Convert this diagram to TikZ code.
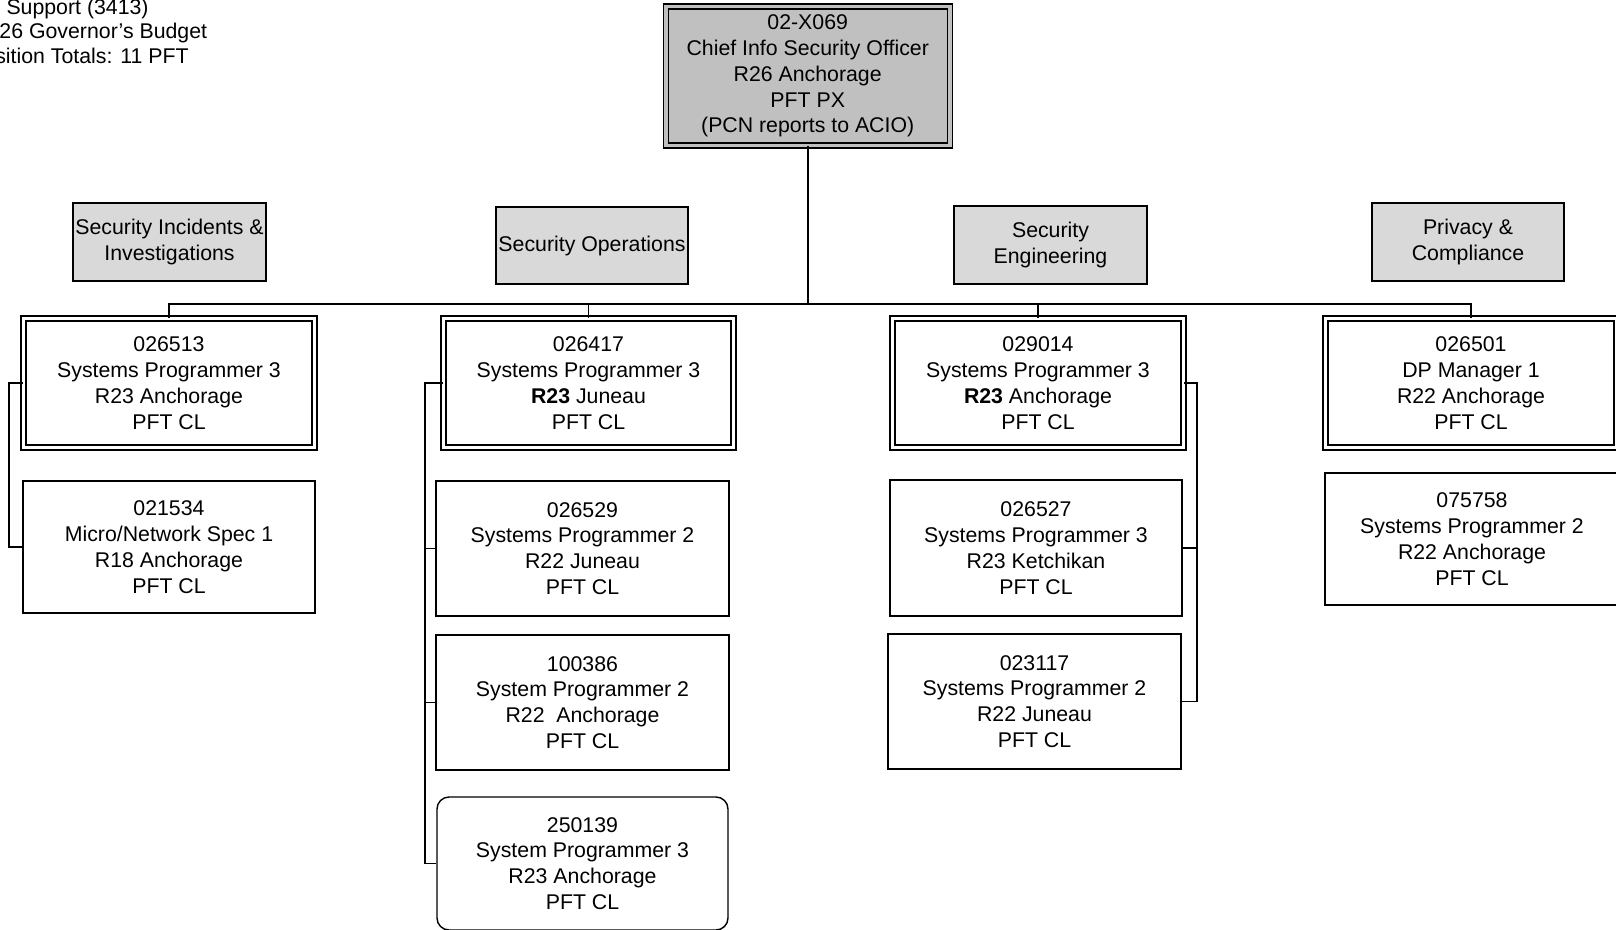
\documentclass[tikz,border=0pt]{standalone}
\usepackage{fontspec}
\setmainfont{Liberation Sans}
\newcommand\orgfont{\fontsize{10.65pt}{12.9pt}\selectfont}
\definecolor{chiefgray}{HTML}{C0C0C0}
\definecolor{headgray}{HTML}{D9D9D9}
\tikzset{
  box/.style={draw, line width=0.7pt, fill=white, align=center, inner sep=0pt, font=\orgfont},
  dbox/.style={draw, line width=0.6pt, double=white, double distance=1.9pt, fill=white, align=center, inner sep=0pt, font=\orgfont},
  headbox/.style={box, fill=headgray},
  conn/.style={line width=0.75pt},
  trunk/.style={line width=1.1pt},
  toptext/.style={anchor=base east, inner sep=0pt, font=\orgfont}
}
\begin{document}
\begin{tikzpicture}[x=0.5pt,y=-0.5pt]
\useasboundingbox (0,0) rectangle (1616,930);
\clip (0,0) rectangle (1616,930);
\fill[white] (0,0) rectangle (1616,930);

% top-left caption (clipped in the reference)
\node[toptext] (cap1) at (149,14.5) {Support (3413)};
\node[toptext] (cap2) at (207.5,38.5) {26 Governor’s Budget};
\node[toptext] (cap3) at (189,63.5) {sition Totals: 11 PFT};

% chief
\node[dbox, fill=chiefgray, double=chiefgray, minimum width=142pt, minimum height=69.5pt] (chief) at (807.7,76)
  {02-X069\\Chief Info Security Officer\\R26 Anchorage\\PFT PX\\(PCN reports to ACIO)};

% headers
\node[headbox, minimum width=96.5pt, minimum height=39pt] (h1) at (169.5,242) {Security Incidents \&\\Investigations};
\node[headbox, minimum width=96pt, minimum height=38.5pt] (h2) at (592,245.5) {Security Operations};
\node[headbox, minimum width=96.5pt, minimum height=39pt] (h3) at (1050.5,245) {Security\\Engineering};
\node[headbox, minimum width=96pt, minimum height=39pt] (h4) at (1468,242) {Privacy \&\\Compliance};

% double-lined positions
\node[dbox, minimum width=145.5pt, minimum height=64.5pt] (d1) at (169,383) {026513\\Systems Programmer 3\\R23 Anchorage\\PFT CL};
\node[dbox, minimum width=145pt, minimum height=64.5pt] (d2) at (588.5,383) {026417\\Systems Programmer 3\\\textbf{R23} Juneau\\PFT CL};
\node[dbox, minimum width=145.5pt, minimum height=64.5pt] (d3) at (1038,383) {029014\\Systems Programmer 3\\\textbf{R23} Anchorage\\PFT CL};
\node[dbox, minimum width=145.5pt, minimum height=64.5pt] (d4) at (1471,383) {026501\\DP Manager 1\\R22 Anchorage\\PFT CL};

% single positions
\node[box, minimum width=146pt, minimum height=66pt] (s1) at (169,547) {021534\\Micro/Network Spec 1\\R18 Anchorage\\PFT CL};
\node[box, minimum width=146.5pt, minimum height=67.5pt] (s2a) at (582.5,548.5) {026529\\Systems Programmer 2\\R22 Juneau\\PFT CL};
\node[box, minimum width=146.5pt, minimum height=67.5pt] (s2b) at (582.5,702.5) {100386\\System Programmer 2\\R22~~Anchorage\\PFT CL};
\node[box, rounded corners=6pt, minimum width=145.5pt, minimum height=66.5pt] (s2c) at (582.5,863.5) {250139\\System Programmer 3\\R23 Anchorage\\PFT CL};
\node[box, minimum width=146pt, minimum height=68pt] (s3a) at (1036,548) {026527\\Systems Programmer 3\\R23 Ketchikan\\PFT CL};
\node[box, minimum width=146.5pt, minimum height=67.5pt] (s3b) at (1034.5,701.5) {023117\\Systems Programmer 2\\R22 Juneau\\PFT CL};
\node[box, minimum width=147pt, minimum height=66pt] (s4) at (1472,539) {075758\\Systems Programmer 2\\R22 Anchorage\\PFT CL};

% connectors
\coordinate (bus) at (808,304);
\draw[trunk] (bus) -- (bus |- chief.south);
\draw[conn] (d1.north) |- (bus) -| (d4.north);
\draw[conn] (d2.north) -- (d2.north |- bus);
\draw[conn] (d3.north) -- (d3.north |- bus);

\coordinate (b1) at (9,0);
\draw[conn] (d1.west) -| (b1 |- s1.west) -- (s1.west);

\coordinate (b2) at (425,0);
\draw[conn] (d2.west) -| (b2 |- s2c.west) -- (s2c.west);
\draw[conn] (s2a.west) -- (s2a.west -| b2);
\draw[conn] (s2b.west) -- (s2b.west -| b2);

\coordinate (b3) at (1197,0);
\draw[conn] (d3.east) -| (b3 |- s3b.east) -- (s3b.east);
\draw[conn] (s3a.east) -- (s3a.east -| b3);
\end{tikzpicture}
\end{document}
